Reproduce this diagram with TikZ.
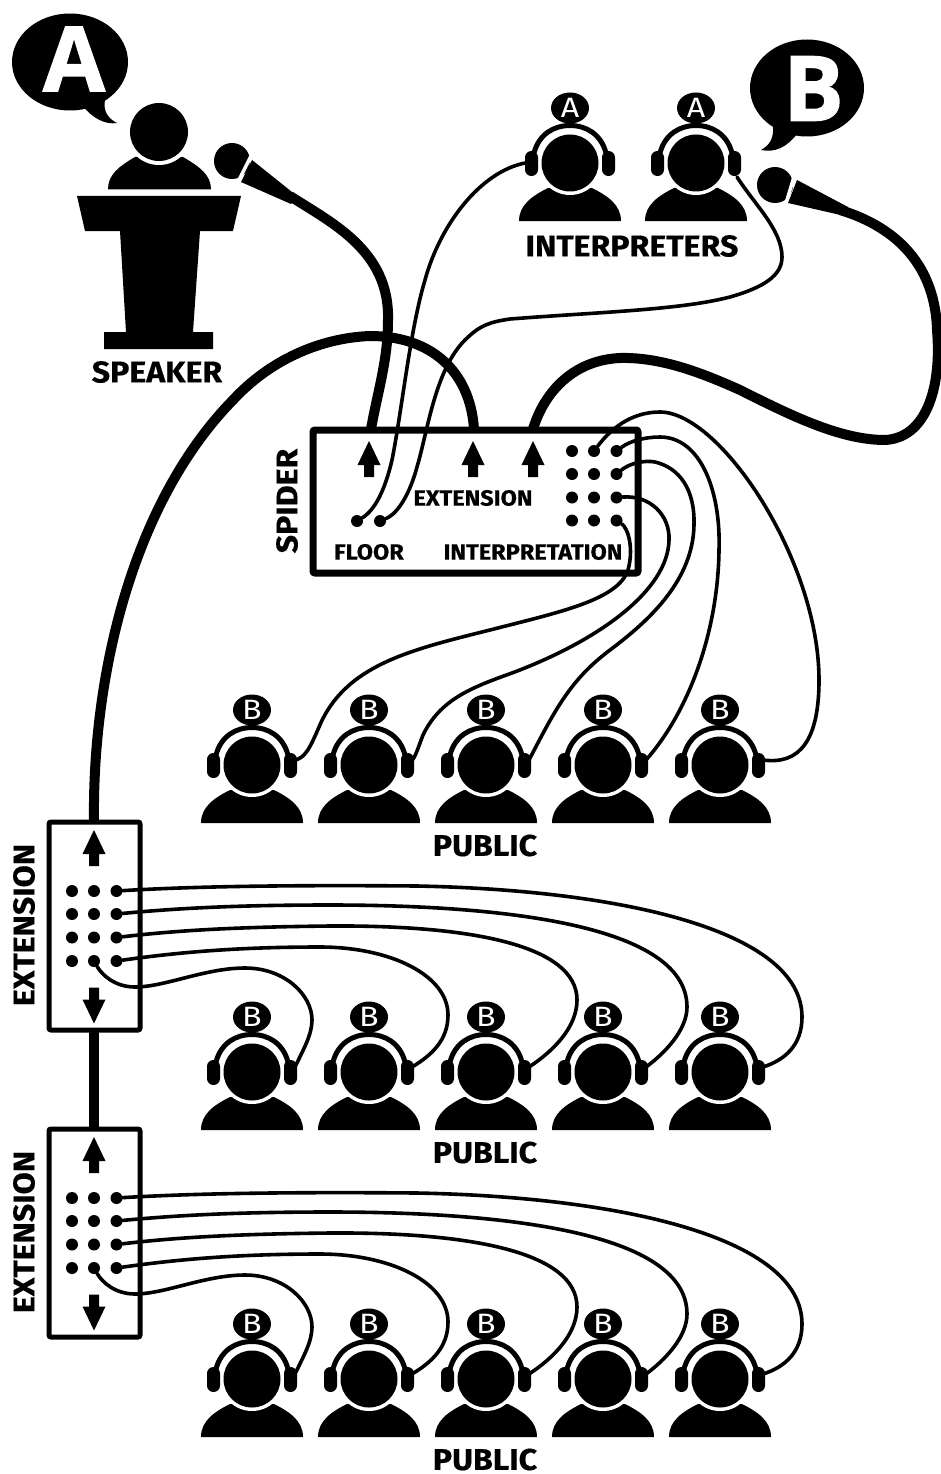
\documentclass[tikz,border=0pt]{standalone}
\usepackage{fontspec}
\setmainfont{Fira Sans}
\newfontfamily\balloonfont[FakeBold=1.5]{Open Sans Bold}
\newfontfamily\labelfont[FakeStretch=1.07,FakeBold=0.5]{Fira Sans Bold}
\newfontfamily\badgefont[FakeStretch=1.15]{Fira Sans}
\usepackage{tikz}
\usetikzlibrary{calc}
\tikzstyle{wire}=[line width=3.6pt,line cap=round]
\tikzstyle{cable}=[line width=10pt]
\tikzstyle{jack}=[circle,fill=black,inner sep=0pt,minimum size=12pt]
\tikzstyle{spiderbox}=[draw,line width=7pt,rounded corners=2pt,minimum width=325pt,minimum height=143pt]
\tikzstyle{extbox}=[draw,line width=5pt,rounded corners=2pt,minimum width=91pt,minimum height=208pt]
\tikzstyle{biglabel}=[font=\labelfont\fontsize{30}{30}\selectfont,inner sep=0pt]
\tikzstyle{boxlabel}=[font=\labelfont\fontsize{22}{22}\selectfont,inner sep=0pt]
\tikzset{
	listener/.pic={
		\fill (-51,58) .. controls (-51,42) and (-38,33) .. (-22,25) -- (22,25) .. controls (38,33) and (51,42) .. (51,58) -- cycle;
		\fill[white] (0,0) circle (32);
		\fill (0,0) circle (28.5);
		\draw[line width=5pt] (-36,-10) .. controls (-31,-29) and (-16,-37.5) .. (0,-37.5) .. controls (16,-37.5) and (31,-29) .. (36,-10);
		\fill[rounded corners=6.4pt] (-45,-12) rectangle (-32,13);
		\fill[rounded corners=6.4pt] (32,-12) rectangle (45,13);
		\fill (0,-55) ellipse (19 and 15.5);
		\node[text=white,font=\badgefont\fontsize{28}{28}\selectfont,inner sep=0pt] (-badge) at (0,-55) {#1};
		\coordinate (-jackl) at (-45,0);
		\coordinate (-jackr) at (43,-5);
	},
	plug/.pic={
		\fill (0,-18) -- (11.5,6) -- (5,6) -- (5,18) -- (-5,18) -- (-5,6) -- (-11.5,6) -- cycle;
	}
}
\begin{document}
\begin{tikzpicture}[x=1pt,y=-1pt]
	\useasboundingbox (0,0) rectangle (940,1474);
	%balloons
	\fill (70,62) ellipse (58 and 48.5);
	\fill (82,105) .. controls (92,118) and (105,125) .. (117,123) .. controls (107,118) and (103,110) .. (105,100) -- cycle;
	\node[text=white,font=\balloonfont\fontsize{90}{90}\selectfont,inner sep=0pt] (balloona) at (74,59) {A};
	\fill (807,88) ellipse (57 and 48.5);
	\fill (773,125) .. controls (774,138) and (770,145) .. (761,150) .. controls (775,153) and (787,147) .. (797,134) -- cycle;
	\node[text=white,font=\balloonfont\fontsize{90}{90}\selectfont,inner sep=0pt] (balloonb) at (813.5,88.5) {B};
	%speaker and podium
	\fill (108,189.5) .. controls (108,175) and (118,167) .. (135,157) -- (183,157) .. controls (200,167) and (211,175) .. (211,189.5) -- cycle;
	\fill[white] (159,132) circle (33);
	\fill (159,132) circle (29);
	\fill (77,196) -- (241,196) -- (233,231) -- (200,231) -- (193,332) -- (213,332) -- (213,349) -- (104,349) -- (104,332) -- (126,332) -- (120,231) -- (85,231) -- cycle;
	\node[biglabel] (speaker) at (157,372) {SPEAKER};
	%microphones
	\coordinate (mica) at (290,196);
	\coordinate (micb) at (840,210);
	\fill (232,161) circle (18);
	\draw[white,line width=3.5pt] (254,150) -- (236,186);
	\fill (252,160) -- (297,196) -- (291,204) -- (241,182) -- cycle;
	\fill (775,185) circle (18);
	\draw[white,line width=3.5pt] (796,170) -- (784,210);
	\fill (797,180) -- (848,207) -- (845,216) -- (788,203) -- cycle;
	%interpreters
	\foreach \col/\x in {1/570,2/696}
		\pic (interp\col) at (\x,163) {listener=A};
	\node[biglabel] (interpreters) at (632,246) {INTERPRETERS};
	%spider
	\coordinate (portfloor) at (371,429);
	\coordinate (portext) at (474,429);
	\coordinate (portint) at (533,429);
	\draw[cable] (mica) .. controls (330,222) and (390,250) .. (388,320) .. controls (388,360) and (378,390) .. (portfloor);
	\draw[cable] (portint) .. controls (545,390) and (575,360) .. (620,358) .. controls (660,357) and (700,372) .. (740,390) .. controls (790,415) and (840,440) .. (885,440) .. controls (925,438) and (942,390) .. (937,330) .. controls (935,260) and (890,225) .. (micb);
	\node[spiderbox] (spider) at (475.5,501.5) {};
	\node[biglabel,rotate=90] (spiderlabel) at (287,501) {SPIDER};
	\node[boxlabel] (extlabel) at (473,498) {EXTENSION};
	\node[boxlabel] (floorlabel) at (369,552) {FLOOR};
	\node[boxlabel] (intlabel) at (533,552) {INTERPRETATION};
	\pic at (369,459) {plug};
	\pic at (473,459) {plug};
	\pic at (533,459) {plug};
	\node[jack] (floora) at (357,521) {};
	\node[jack] (floorb) at (380,521) {};
	\foreach \r/\y in {1/451,2/474,3/497.5,4/520.5}
		\foreach \c/\x in {1/572,2/594,3/616.5}
			\node[jack] (sp\r\c) at (\x,\y) {};
	\draw[wire] (floora) .. controls (375,510) and (385,490) .. (392,460) .. controls (402,410) and (410,330) .. (425,280) .. controls (440,225) and (480,172) .. (interp1-jackl);
	\draw[wire] (floorb) .. controls (395,515) and (408,500) .. (417,467) .. controls (428,430) and (435,370) .. (465,340) .. controls (480,325) and (490,322) .. (510,319) .. controls (600,312) and (680,310) .. (730,297) .. controls (765,287) and (782,275) .. (782,257) .. controls (782,230) and (755,205) .. (737,177);
	%public
	\foreach \row/\y in {1/765,2/1072,3/1379}{
		\foreach \col/\x in {1/252,2/369,3/486,4/603,5/720}
			\pic (row\row col\col) at (\x,\y) {listener=B};
		\node[biglabel,yshift=-80.5pt] (public\row) at (485,\y) {PUBLIC};
	}
	\draw[wire] (sp43) .. controls (628,528) and (634,548) .. (628,570) .. controls (618,600) and (560,612) .. (490,630) .. controls (410,650) and (345,665) .. (319,727) .. controls (310,748) and (305,758) .. (row1col1-jackr);
	\draw[wire] (sp33) .. controls (650,495) and (670,515) .. (669,540) .. controls (668,590) and (600,640) .. (512,673) .. controls (470,688) and (440,700) .. (423,735) .. controls (418,748) and (415,758) .. (row1col2-jackr);
	\draw[wire] (sp23) .. controls (630,463) and (645,460) .. (655,462) .. controls (680,468) and (695,490) .. (694,525) .. controls (693,580) and (650,620) .. (610,650) .. controls (570,680) and (555,710) .. (row1col3-jackr);
	\draw[wire] (sp13) .. controls (630,441) and (645,437) .. (660,437) .. controls (700,437) and (721,490) .. (719,550) .. controls (718,630) and (690,710) .. (row1col4-jackr);
	\draw[wire] (sp12) .. controls (610,430) and (630,412) .. (660,412) .. controls (720,412) and (819,560) .. (819,680) .. controls (819,740) and (800,765) .. (row1col5-jackr);
	%extension boxes
	\draw[cable] (94,822) coordinate (extportup) .. controls (92,670) and (135,500) .. (233,400) .. controls (270,360) and (320,338) .. (370,336) .. controls (430,336) and (470,370) .. (portext);
	\foreach \ext/\row/\dy in {1/2/0,2/3/307}{
		\begin{scope}[shift={(0,\dy)}]
			\node[extbox] (ext\ext) at (94.5,926) {};
			\node[biglabel,rotate=90] (extname\ext) at (24,925) {EXTENSION};
			\pic at (94,848) {plug};
			\pic[rotate=180] at (94,1005.5) {plug};
			\foreach \r/\y in {1/891,2/914,3/937.5,4/961}
				\foreach \c/\x in {1/72,2/94,3/116.5}
					\node[jack] (ex\ext\r\c) at (\x,\y) {};
			\draw[wire] (ex\ext 42) .. controls (102,975) and (115,987) .. (135,987) .. controls (165,987) and (205,968) .. (245,968) .. controls (285,968) and (312,995) .. (312,1020) .. controls (312,1035) and (303,1050) .. (row\row col1-jackr);
			\draw[wire] (ex\ext 43) .. controls (180,952) and (240,947) .. (320,947) .. controls (390,947) and (448,975) .. (448,1015) .. controls (448,1040) and (432,1055) .. (row\row col2-jackr);
			\draw[wire] (ex\ext 33) .. controls (180,930) and (240,927) .. (330,926) .. controls (470,925) and (577,945) .. (577,1000) .. controls (577,1028) and (552,1052) .. (row\row col3-jackr);
			\draw[wire] (ex\ext 23) .. controls (180,908) and (240,905) .. (330,905) .. controls (480,905) and (687,920) .. (687,1007) .. controls (687,1030) and (665,1053) .. (row\row col4-jackr);
			\draw[wire] (ex\ext 13) .. controls (200,886) and (300,885) .. (417,886) .. controls (620,890) and (802,930) .. (802,1017) .. controls (802,1045) and (785,1060) .. (row\row col5-jackr);
		\end{scope}
	}
	\draw[cable] (94,1030) -- (94,1129);
\end{tikzpicture}
\end{document}
